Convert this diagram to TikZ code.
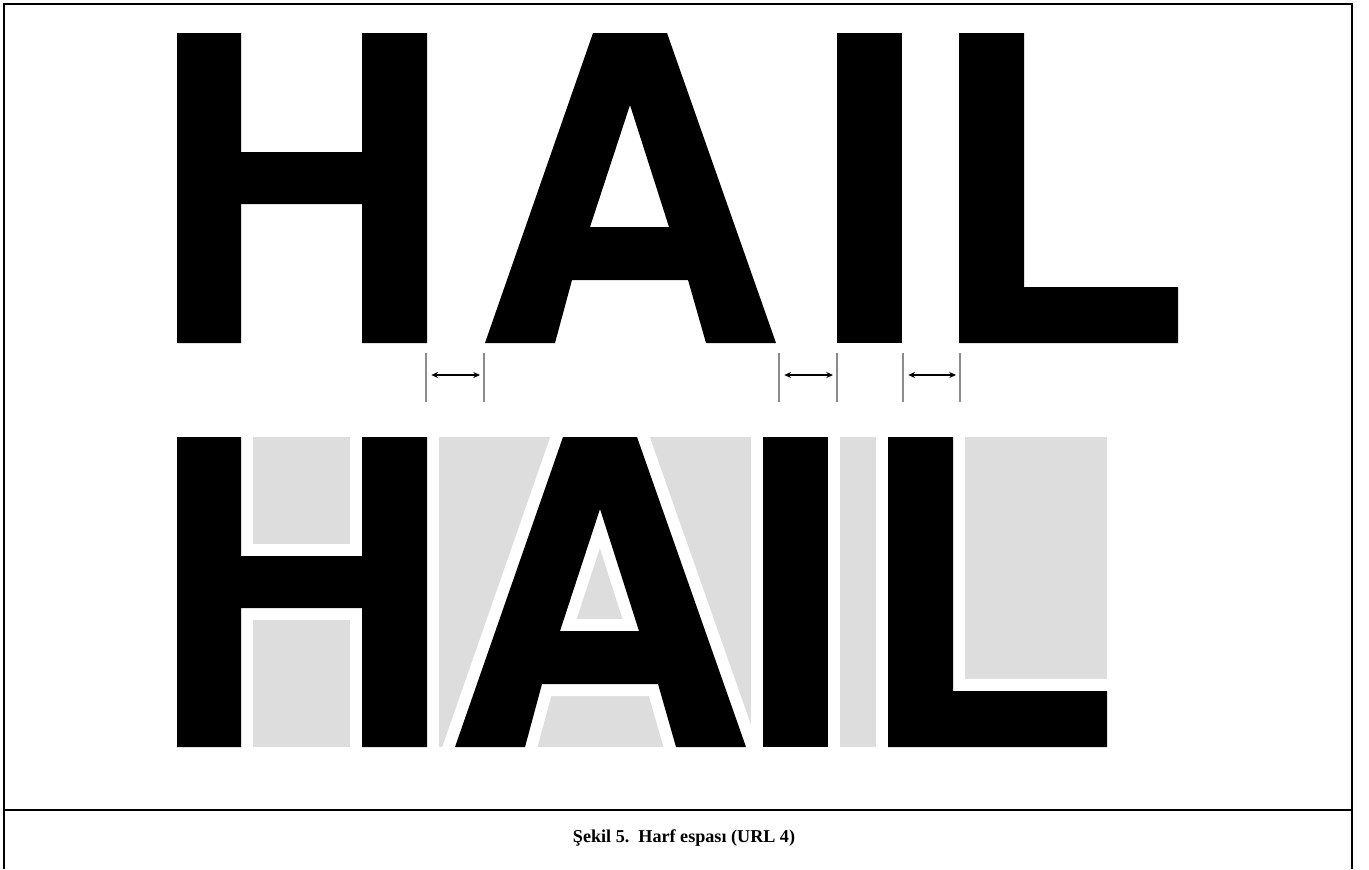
\documentclass[tikz,border=0pt]{standalone}
\usepackage{fontspec}
\setmainfont{Liberation Serif}
\usetikzlibrary{arrows.meta}
\definecolor{halo}{HTML}{DDDDDD}
\definecolor{guidegray}{HTML}{8C8C8C}

% letter outlines, origin at top left of the letter box
\newcommand{\glyphH}{(0,0) -- (64,0) -- (64,119) -- (185,119) -- (185,0) -- (250,0) -- (250,310) -- (185,310) -- (185,171) -- (64,171) -- (64,310) -- (0,310) -- cycle}
\newcommand{\glyphA}{(0,310) -- (108,0) -- (182,0) -- (291,310) -- (221,310) -- (203,247) -- (87,247) -- (70,310) -- cycle (105,194) -- (184,194) -- (145,72) -- cycle}
\newcommand{\glyphI}{(0,0) rectangle (65,310)}
\newcommand{\glyphL}{(0,0) -- (65,0) -- (65,254) -- (219,254) -- (219,310) -- (0,310) -- cycle}

\begin{document}
\begin{tikzpicture}[x=0.75pt,y=-0.75pt,>={Stealth[length=5pt,width=4.5pt]},
   ink/.style={fill=black,even odd rule},
   gapline/.style={draw=white,line width=18pt,line join=miter},
   guideline/.style={draw=guidegray,line width=1.5pt},
   gaparrow/.style={<->,line width=0.9pt,shorten <=4pt,shorten >=3pt},
   frame/.style={line width=1.5pt}]
  \useasboundingbox (0,0) rectangle (1369,869);

  % frame and caption row
  \draw[frame] (4,869) -- (4,4) -- (1352,4) -- (1352,869);
  \draw[frame] (4,810) -- (1352,810);
  \node[font=\fontsize{13.6}{16}\selectfont\bfseries] (caption) at (684,838) {Şekil 5.\ \ Harf espası (URL 4)};

  % top row: normal spacing
  \fill[ink,shift={(177,33)}] \glyphH;
  \fill[ink,shift={(485,33)}] \glyphA;
  \fill[ink,shift={(837,33)}] \glyphI;
  \fill[ink,shift={(959,33)}] \glyphL;

  % gap markers
  \foreach \xa/\xb [count=\k] in {426/484, 779/837, 903/960}{
    \draw[guideline] (\xa,353) -- (\xa,402);
    \draw[guideline] (\xb,353) -- (\xb,402);
    \coordinate (gapl\k) at (\xa,375);
    \coordinate (gapr\k) at (\xb,375);
    \draw[gaparrow] (gapl\k) -- (gapr\k);
  }

  % bottom row: tight spacing over grey boxes
  \fill[halo] (177,437) rectangle (1107,747);
  \draw[gapline,shift={(177,437)}] \glyphH;
  \draw[gapline,shift={(455,437)}] \glyphA;
  \draw[gapline,shift={(763,437)}] \glyphI;
  \draw[gapline,shift={(888,437)}] \glyphL;
  \fill[ink,shift={(177,437)}] \glyphH;
  \fill[ink,shift={(455,437)}] \glyphA;
  \fill[ink,shift={(763,437)}] \glyphI;
  \fill[ink,shift={(888,437)}] \glyphL;
\end{tikzpicture}
\end{document}
